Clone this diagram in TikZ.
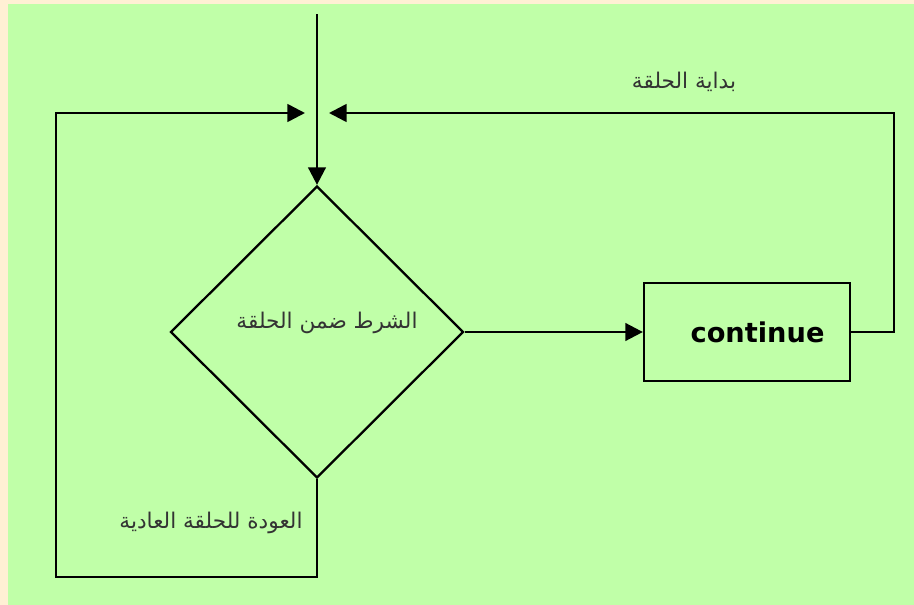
\documentclass[tikz,border=0pt]{standalone}
\usepackage{fontspec}
\newfontfamily\arabicfont[Script=Arabic]{DejaVu Sans}
\newfontfamily\boxfont{DejaVu Sans}
\TeXXeTstate=1
\usepackage{tikz}
\usetikzlibrary{arrows.meta, shapes.geometric, positioning}
\definecolor{paperyellow}{HTML}{FFF0D4}
\definecolor{bggreen}{HTML}{C0FFA8}

\begin{document}
\begin{tikzpicture}[
    x=0.02cm, y=-0.02cm,
    decision/.style={
        diamond,
        draw=black,
        line width=1.3pt,
        inner sep=0pt,
        minimum width=5.86cm,
        minimum height=5.84cm
    },
    box/.style={
        rectangle,
        draw=black,
        line width=1.3pt,
        minimum width=4.12cm,
        minimum height=1.96cm,
        font=\boxfont\bfseries\fontsize{15.5}{18}\selectfont
    },
    label/.style={
        font=\arabicfont\fontsize{12.3}{14}\selectfont,
        text=black!80
    },
    arrow/.style={
        -{Triangle[length=10pt,width=10pt]},
        line width=1.5pt
    }
]

% Background
\useasboundingbox (0,0) rectangle (914,605);
\fill[paperyellow] (0,0) rectangle (914,605);
\fill[bggreen] (8,4) rectangle (914,605);

% Shapes
\node[decision] (cond) at (317,332) {};
\node[box]      (cont) at (747,332) {\hspace{12pt}continue};

% Free ends
\coordinate (top)     at (317,14);
\coordinate (leftin)  at (305,113);
\coordinate (rightin) at (329,113);

% Texts
\node[label] (condtext)   at (327,323) {\beginR الشرط ضمن الحلقة\endR};
\node[label] (starttext)  at (684,82)  {\beginR بداية الحلقة\endR};
\node[label] (returntext) at (211,523) {\beginR العودة للحلقة العادية\endR};

% Arrows
\draw[arrow] (top) -- (cond.north);
\draw[arrow] (cond.east) -- (cont.west);

\draw[arrow] (cond.south) -- (317,577) -| (56,113) -- (leftin);
\draw[arrow] (cont.east) -- (894,332) |- (rightin);

\end{tikzpicture}
\end{document}
